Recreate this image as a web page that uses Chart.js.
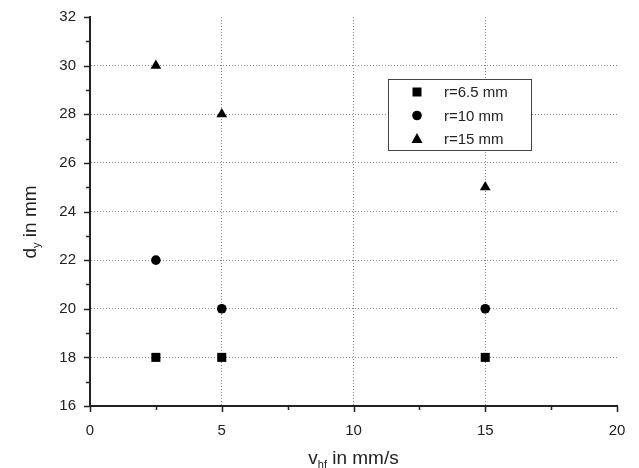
<!DOCTYPE html>
<html>
<head>
<meta charset="utf-8">
<script src="https://cdn.jsdelivr.net/npm/chart.js@4"></script>
<style>
  html, body { margin: 0; padding: 0; background: #fff; }
  #wrap { width: 639px; height: 468px; position: relative; }
</style>
</head>
<body>
<div id="wrap"><canvas id="dyChart"></canvas></div>
<script>
  // data
  const speeds = [2.5, 5, 15];
  const dyR65 = [18, 18, 18];
  const dyR10 = [22, 20, 20];
  const dyR15 = [30, 28, 25];
  const seriesLabels = ['r=6.5 mm', 'r=10 mm', 'r=15 mm'];
  const seriesShapes = ['rect', 'circle', 'triangle'];
  const xTicks = [0, 5, 10, 15, 20];
  const yTicks = [16, 18, 20, 22, 24, 26, 28, 30, 32];

  const FONT = '"Liberation Sans", Arial, sans-serif';

  function pts(ys) {
    return speeds.map((x, i) => ({ x: x, y: ys[i] }));
  }

  function marker(ctx, shape, x, y) {
    ctx.beginPath();
    if (shape === 'rect') {
      ctx.rect(x - 4.5, y - 4.5, 9, 9);
    } else if (shape === 'circle') {
      ctx.arc(x, y, 4.8, 0, Math.PI * 2);
    } else {
      ctx.moveTo(x, y - 6);
      ctx.lineTo(x + 5.5, y + 4);
      ctx.lineTo(x - 5.5, y + 4);
      ctx.closePath();
    }
    ctx.fill();
  }

  // draw text with a subscript part: main, sub, rest
  function subText(ctx, x, y, main, sub, rest, big, small) {
    ctx.font = big + 'px ' + FONT;
    const wA = ctx.measureText(main).width;
    const wC = ctx.measureText(rest).width;
    ctx.font = small + 'px ' + FONT;
    const wB = ctx.measureText(sub).width;
    let x0 = x - (wA + wB + wC) / 2;
    ctx.font = big + 'px ' + FONT;
    ctx.fillText(main, x0, y);
    ctx.font = small + 'px ' + FONT;
    ctx.fillText(sub, x0 + wA, y + 4);
    ctx.font = big + 'px ' + FONT;
    ctx.fillText(rest, x0 + wA + wB, y);
  }

  // ticks (major + minor), axis titles, legend box
  const decor = {
    id: 'decor',
    afterDraw(chart) {
      const ctx = chart.ctx;
      const xs = chart.scales.x, ys = chart.scales.y;
      const area = chart.chartArea;
      ctx.save();
      ctx.strokeStyle = '#222';
      ctx.lineWidth = 1.5;
      ctx.beginPath();
      for (let v = 0; v <= 20; v += 2.5) {
        const px = Math.round(xs.getPixelForValue(v)) + 0.5;
        const len = v % 5 === 0 ? 6 : 4;
        ctx.moveTo(px, area.bottom);
        ctx.lineTo(px, area.bottom + len);
      }
      for (let v = 16; v <= 32; v += 1) {
        const py = Math.round(ys.getPixelForValue(v)) + 0.5;
        const len = v % 2 === 0 ? 6 : 4;
        ctx.moveTo(area.left, py);
        ctx.lineTo(area.left - len, py);
      }
      ctx.stroke();

      // axis titles
      ctx.fillStyle = '#222';
      ctx.textBaseline = 'alphabetic';
      ctx.textAlign = 'left';
      subText(ctx, (area.left + area.right) / 2, 464, 'v', 'hf', ' in mm/s', 19, 11);

      ctx.save();
      ctx.translate(36, 222);
      ctx.rotate(-Math.PI / 2);
      subText(ctx, 0, 0, 'd', 'y', ' in mm', 19, 11);
      ctx.restore();

      // legend box
      const lx = 388, ly = 79, lw = 143, lh = 71;
      ctx.fillStyle = '#fff';
      ctx.fillRect(lx, ly, lw, lh);
      ctx.strokeStyle = '#444';
      ctx.lineWidth = 1;
      ctx.strokeRect(lx + 0.5, ly + 0.5, lw, lh);
      ctx.font = '15px ' + FONT;
      ctx.textBaseline = 'middle';
      chart.data.datasets.forEach((ds, i) => {
        const ry = 92 + i * 23.5;
        ctx.fillStyle = '#000';
        marker(ctx, seriesShapes[i], 417, ry);
        ctx.fillStyle = '#222';
        ctx.fillText(seriesLabels[i], 444, ry + 1);
      });
      ctx.restore();
    }
  };

  const ctx = document.getElementById('dyChart').getContext('2d');

  new Chart(ctx, {
    type: 'scatter',
    data: {
      datasets: [
        { label: seriesLabels[0], data: pts(dyR65), pointStyle: 'rect', pointRadius: 6.4 },
        { label: seriesLabels[1], data: pts(dyR10), pointStyle: 'circle', pointRadius: 4.8 },
        { label: seriesLabels[2], data: pts(dyR15), pointStyle: 'triangle', pointRadius: 6.2 }
      ].map(d => Object.assign(d, {
        backgroundColor: '#000',
        borderColor: '#000',
        borderWidth: 0,
        pointHoverRadius: d.pointRadius
      }))
    },
    options: {
      responsive: true,
      maintainAspectRatio: false,
      animation: false,
      layout: { padding: { top: 17, right: 22, left: 0, bottom: 0 } },
      plugins: {
        legend: { display: false },
        tooltip: { enabled: false }
      },
      scales: {
        x: {
          type: 'linear',
          min: 0,
          max: 20,
          afterFit: s => {
            s.height = 62;
            s.paddingLeft = 0; s.paddingRight = 0;
          },
          afterBuildTicks: s => { s.ticks = xTicks.map(v => ({ value: v })); },
          ticks: {
            padding: 16,
            color: '#222',
            font: { family: FONT, size: 15 }
          },
          grid: {
            drawTicks: false,
            color: c => (c.tick && c.tick.value > 0 && c.tick.value < 20) ? '#888' : 'rgba(0,0,0,0)',
            lineWidth: 1
          },
          border: { display: true, color: '#222', width: 2, dash: [1, 2] }
        },
        y: {
          type: 'linear',
          min: 16,
          max: 32,
          afterFit: s => {
            s.width = 90;
            s.paddingTop = 0; s.paddingBottom = 0;
          },
          afterBuildTicks: s => { s.ticks = yTicks.map(v => ({ value: v })); },
          ticks: {
            padding: 14,
            color: '#222',
            font: { family: FONT, size: 15 }
          },
          grid: {
            drawTicks: false,
            color: c => (c.tick && c.tick.value > 16 && c.tick.value < 32) ? '#888' : 'rgba(0,0,0,0)',
            lineWidth: 1
          },
          border: { display: true, color: '#222', width: 2, dash: [1, 2] }
        }
      }
    },
    plugins: [decor]
  });
</script>
</body>
</html>
